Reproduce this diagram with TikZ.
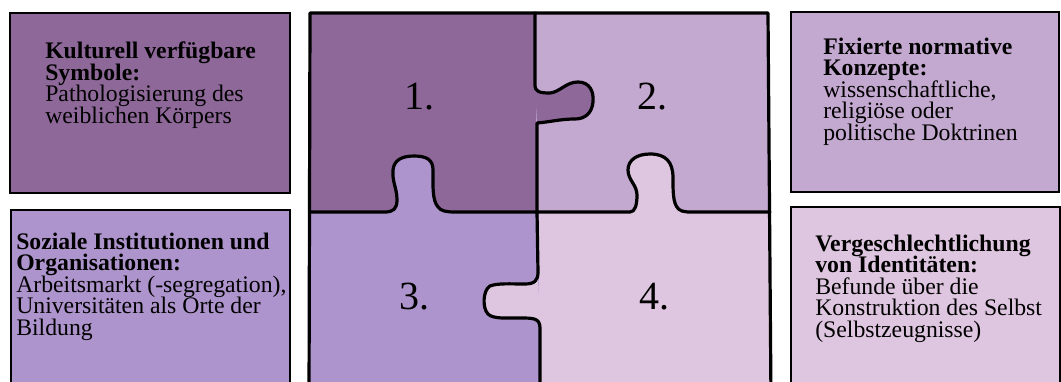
\documentclass[tikz,border=0pt]{standalone}
\usepackage{fontspec}
\setmainfont{Liberation Serif}
\usetikzlibrary{positioning}

\definecolor{pieceA}{HTML}{8E6899}
\definecolor{pieceB}{HTML}{C3A8CF}
\definecolor{pieceC}{HTML}{AE94CC}
\definecolor{pieceD}{HTML}{DFC6E0}

\setlength{\lineskiplimit}{-20pt}

\tikzset{
    panel/.style={draw=black, line width=2.2pt},
    cut/.style={draw=black, line width=2.4pt, line join=round, line cap=round},
    blurb/.style={anchor=base west, align=left, inner sep=0pt,
        font=\fontsize{17.8}{16.1}\selectfont},
    num/.style={inner sep=0pt, font=\fontsize{30}{30}\selectfont}
}

% tab outlines (start point given where used)
\def\tabAB{.. controls (535,92) and (540,93) .. (550,93) .. controls (560,92) and (566,82) .. (578,82) .. controls (590,82) and (594,92) .. (593,102) .. controls (592,113) and (585,119) .. (575,119) .. controls (560,119) and (550,122) .. (537,123)}
\def\tabCA{.. controls (393,212) and (397,209) .. (397,200) .. controls (397,188) and (392,182) .. (393,170) .. controls (394,160) and (402,156) .. (414,156) .. controls (427,156) and (433,160) .. (433,170) .. controls (433,185) and (432,200) .. (438,207) .. controls (441,211) and (446,212) .. (455,212)}
\def\tabDB{.. controls (635,212) and (637,205) .. (637,195) .. controls (637,185) and (628,180) .. (628,170) .. controls (628,160) and (637,154) .. (650,154) .. controls (666,154) and (673,162) .. (673,178) .. controls (673,195) and (673,208) .. (682,211) .. controls (685,212) and (688,212) .. (692,212)}
\def\tabDC{.. controls (538,280) and (535,284) .. (525,284) .. controls (510,284) and (498,283) .. (490,286) .. controls (483,290) and (482,308) .. (488,314) .. controls (493,319) and (505,318) .. (520,318) .. controls (533,318) and (540,318) .. (540,328)}

\begin{document}
\begin{tikzpicture}[x=0.75pt, y=-0.75pt]
    \clip (0,0) rectangle (1061,382);
    \fill[white] (0,0) rectangle (1061,382);

    % side boxes
    \draw[panel, fill=pieceA] (10,13) rectangle (290,193);
    \draw[panel, fill=pieceC] (11,210) rectangle (290,400);
    \draw[panel, fill=pieceB] (791,12) rectangle (1059,192);
    \draw[panel, fill=pieceD] (791,207) rectangle (1060,400);

    % puzzle pieces
    \fill[pieceA] (310,13) rectangle (536,212);
    \fill[pieceB] (536,13) rectangle (769,212);
    \fill[pieceC] (310,212) rectangle (539,400);
    \fill[pieceD] (539,212) rectangle (771,400);
    \fill[pieceA] (535,85) \tabAB -- cycle;
    \fill[pieceC] (385,212) \tabCA -- cycle;
    \fill[pieceD] (630,212) \tabDB -- cycle;
    \fill[pieceD] (538,272) \tabDC -- cycle;

    \draw[cut] (535,13) -- (535,85) \tabAB -- (537,212) -- (538,272) \tabDC -- (540,400);
    \draw[cut] (310,212) -- (385,212) \tabCA -- (630,212) \tabDB -- (770,212);
    \draw[cut] (309,400) -- (310,13) -- (768,13) -- (771,400);

    \node[num] (one) at (419,97) {1.};
    \node[num] (two) at (652,97) {2.};
    \node[num] (three) at (414,297) {3.};
    \node[num] (four) at (654,297) {4.};

    % base = last line, so y is the last baseline
    \node[blurb] (symbole) at (45,123) {\textbf{Kulturell verfügbare}\\\textbf{Symbole:}\\Pathologisierung des\\weiblichen Körpers};
    \node[blurb] (institutionen) at (16,335) {\textbf{Soziale Institutionen und}\\\textbf{Organisationen:}\\Arbeitsmarkt (-segregation),\\Universitäten als Orte der\\Bildung};
    \node[blurb] (konzepte) at (823,140) {\textbf{Fixierte normative}\\\textbf{Konzepte:}\\wissenschaftliche,\\religiöse oder\\politische Doktrinen};
    \node[blurb] (identitaeten) at (815,337) {\textbf{Vergeschlechtlichung}\\\textbf{von Identitäten:}\\Befunde über die\\Konstruktion des Selbst\\(Selbstzeugnisse)};
\end{tikzpicture}
\end{document}
